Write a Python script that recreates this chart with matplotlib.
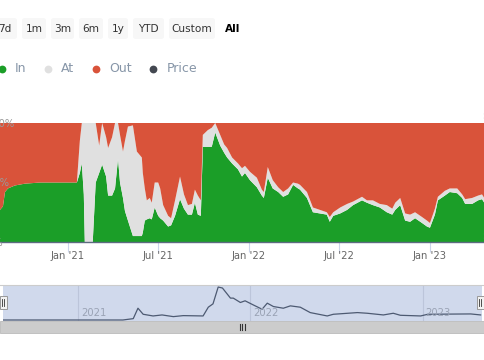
import matplotlib
matplotlib.use("Agg")
import matplotlib.pyplot as plt
import matplotlib.dates as mdates
from matplotlib.patches import FancyBboxPatch, Rectangle
import pandas as pd
import numpy as np

# ---------------- data ----------------
dates = ["2020-08-17", "2020-08-23", "2020-08-27", "2020-09-02", "2020-09-16", "2020-10-06", "2020-11-06",
         "2021-01-19", "2021-01-25", "2021-01-29", "2021-02-02", "2021-02-04", "2021-02-20", "2021-02-26",
         "2021-03-05", "2021-03-11", "2021-03-19", "2021-03-23",
         "2021-03-31", "2021-04-06", "2021-04-12", "2021-04-16", "2021-04-22", "2021-04-26", "2021-05-02",
         "2021-05-12", "2021-05-20", "2021-05-30", "2021-06-01", "2021-06-05", "2021-06-09", "2021-06-15",
         "2021-06-19", "2021-06-25", "2021-07-02", "2021-07-06", "2021-07-12", "2021-07-22", "2021-07-28",
         "2021-08-05", "2021-08-15", "2021-08-23", "2021-08-31", "2021-09-08", "2021-09-14", "2021-09-20",
         "2021-09-26", "2021-09-30", "2021-10-10", "2021-10-18", "2021-10-25",
         "2021-11-04", "2021-11-12", "2021-11-18", "2021-11-28", "2021-12-10", "2021-12-18", "2021-12-24",
         "2022-01-03", "2022-01-17", "2022-01-27", "2022-01-31", "2022-02-08", "2022-02-18", "2022-03-01",
         "2022-03-11", "2022-03-21", "2022-03-31", "2022-04-10", "2022-04-14", "2022-04-28", "2022-05-10",
         "2022-05-24", "2022-06-07", "2022-06-13", "2022-06-20", "2022-07-04", "2022-07-18", "2022-07-30",
         "2022-08-17", "2022-08-27", "2022-09-08", "2022-09-22", "2022-10-06", "2022-10-17", "2022-10-23",
         "2022-11-02", "2022-11-12", "2022-11-22", "2022-12-02", "2022-12-16", "2022-12-26",
         "2023-01-01", "2023-01-11", "2023-01-17", "2023-01-31", "2023-02-10", "2023-02-25", "2023-03-07",
         "2023-03-13", "2023-03-27", "2023-04-08", "2023-04-16", "2023-04-22"]
in_pct = [27, 30, 42, 45, 47.5, 49, 50,
          50, 58, 66, 40, 0, 0, 50,
          58, 65, 55, 39,
          39, 45, 70, 50, 37, 26, 18,
          5, 5, 5, 8, 18, 19, 20,
          19, 29, 22, 20, 18, 13, 14,
          22, 36, 28, 23, 23, 33, 23,
          22, 80, 80, 80, 92,
          81, 75, 71, 66, 61, 55, 58,
          52, 46, 39, 37, 54, 45, 42,
          38, 40, 48, 45, 44, 37, 25,
          24, 23, 17, 22, 24, 27, 31,
          35, 33, 31, 29, 25, 23, 27,
          31, 18, 17, 20, 16, 13,
          12, 23, 35, 39, 42, 41, 37,
          32, 32, 35, 36, 32]
in_at_pct = [27, 30, 42, 45, 47.5, 49, 50,
             50, 85, 100, 100, 100, 100, 100,
             81, 100, 88, 79,
             88, 100, 100, 90, 76, 85, 97,
             98, 76, 71, 58, 45, 35, 37,
             33, 50, 50, 45, 31, 22, 20,
             35, 55, 40, 31, 32, 44, 39,
             35, 90, 94, 96, 100,
             90, 82, 79, 71, 66, 62, 64,
             59, 54, 44, 42, 63, 52, 46,
             42, 45, 50, 49, 48, 42, 29,
             27, 25, 21, 25, 29, 32, 34,
             38, 35, 35, 32, 31, 28, 33,
             37, 24, 23, 25, 21, 18,
             16, 28, 38, 43, 45, 45, 40,
             36, 37, 39, 40, 36]

price_dates = ["2020-07-26", "2021-04-06", "2021-04-28", "2021-05-08", "2021-05-19", "2021-06-09", "2021-06-28",
               "2021-07-22", "2021-08-12", "2021-09-23", "2021-10-04", "2021-10-14", "2021-10-25", "2021-11-03",
               "2021-11-20", "2021-11-26", "2021-12-11", "2021-12-21", "2022-01-07", "2022-01-26", "2022-02-06",
               "2022-02-19", "2022-03-12", "2022-03-27", "2022-04-17", "2022-05-08", "2022-06-13", "2022-06-26",
               "2022-08-16", "2022-09-06", "2022-10-10", "2022-10-31", "2022-11-15", "2022-12-28", "2023-01-12",
               "2023-04-13", "2023-05-04"]
price = [0.00, 0.00, 0.20, 1.75, 0.85, 0.60, 0.75,
         0.50, 0.65, 0.60, 1.90, 2.40, 4.90, 4.75,
         3.25, 3.25, 2.60, 2.85, 2.25, 1.60, 2.50,
         2.00, 1.75, 2.10, 1.90, 1.10, 0.60, 0.85,
         1.10, 1.00, 0.75, 1.00, 0.70, 0.60, 0.85,
         0.90, 0.75]

tick_dates = ["2021-01-01", "2021-07-01", "2022-01-01", "2022-07-01", "2023-01-01"]
tick_labels = ["Jan '21", "Jul '21", "Jan '22", "Jul '22", "Jan '23"]
nav_years = ["2021-01-01", "2022-01-01", "2023-01-01"]
nav_year_labels = ["2021", "2022", "2023"]
buttons = ["7d", "1m", "3m", "6m", "1y", "YTD", "Custom"]
selected_button = "All"
legend_items = ["In", "At", "Out", "Price"]
y_labels = ["100%", "50%", "0%"]
y_label_values = [100, 50, 0]

# ---------------- style ----------------
C_IN = "#1b9e28"
C_AT = "#e0e0e0"
C_OUT = "#d9533a"
C_PRICE = "#434851"
legend_colors = [C_IN, C_AT, C_OUT, C_PRICE]

W, H = 485, 360
fig = plt.figure(figsize=(W / 100, H / 100), dpi=100)
fig.patch.set_facecolor("white")


def fx(px):
    return px / W


def fy(py):
    return 1 - py / H


# ---------------- main chart ----------------
d = pd.to_datetime(dates)
inn = np.array(in_pct, dtype=float)
at = np.array(in_at_pct, dtype=float) - inn
out = 100 - inn - at

ax = fig.add_axes([0, fy(242), 1, (242 - 123) / H])
ax.stackplot(d, inn, at, out, colors=[C_IN, C_AT, C_OUT], linewidth=0)
ax.set_xlim(pd.Timestamp("2020-08-17"), pd.Timestamp("2023-04-22"))
ax.set_ylim(0, 100)
for s in ["top", "left", "right"]:
    ax.spines[s].set_visible(False)
ax.spines["bottom"].set_color("#5d6b80")
ax.spines["bottom"].set_linewidth(1.0)
ax.set_yticks([])
ax.set_xticks(pd.to_datetime(tick_dates))
ax.set_xticklabels(tick_labels, fontsize=7.2, color="#666666")
ax.tick_params(axis="x", length=7.2, width=0.8, color="#ccd6eb", direction="out", pad=-0.8)

for lab, v in zip(y_labels, y_label_values):
    ypx = 242 - v / 100 * 119
    fig.text(fx(-13), fy(ypx + 1), lab, fontsize=7.2, color="#9a9a9a", ha="left", va="center")
fig.text(fx(482), fy(116), "$5", fontsize=7.2, color="#9a9a9a", ha="left", va="center")
fig.text(fx(482), fy(235), "$0", fontsize=7.2, color="#9a9a9a", ha="left", va="center")

# ---------------- buttons ----------------
btn_boxes = [(-7, 17), (22, 46), (51, 74), (79, 103), (108, 128), (133, 164), (169, 215)]
for lab, (x0, x1) in zip(buttons, btn_boxes):
    p = FancyBboxPatch((fx(x0), fy(39)), fx(x1 - x0), (39 - 18) / H,
                       boxstyle="round,pad=0,rounding_size=0.006",
                       transform=fig.transFigure, facecolor="#f7f7f7", edgecolor="none")
    fig.patches.append(p)
    fig.text(fx((x0 + x1) / 2), fy(29), lab, fontsize=7.6, color="#333333",
             ha="center", va="center")
fig.text(fx(232.5), fy(29), selected_button, fontsize=7.6, color="#000000",
         ha="center", va="center", fontweight="bold")

# ---------------- legend ----------------
dot_x = [2, 48, 96, 153]
text_x = [15, 61, 109, 167]
for lab, c, dx, tx in zip(legend_items, legend_colors, dot_x, text_x):
    fig.add_artist(plt.Line2D([fx(dx)], [fy(69)], transform=fig.transFigure, marker="o",
                              markersize=5.6, markerfacecolor=c, markeredgecolor="none",
                              linestyle="none"))
    fig.text(fx(tx), fy(68.5), lab, fontsize=9, color="#8796a8", ha="left", va="center")

# ---------------- navigator ----------------
nav = fig.add_axes([fx(3), fy(321), fx(479), 36 / H])
nav.set_facecolor("#d0d9ec")
pdts = pd.to_datetime(price_dates)
nav.plot(pdts, price, color="#4d5a72", linewidth=0.9)
nav.set_xlim(pd.Timestamp("2020-07-26"), pd.Timestamp("2023-05-07"))
nav.set_ylim(-0.15, 5.2)
nav.set_yticks([])
nav.set_xticks(pd.to_datetime(nav_years))
nav.tick_params(axis="x", length=0, labelbottom=False)
nav.grid(axis="x", color="#bcc5da", linewidth=0.8)
for s in nav.spines.values():
    s.set_visible(False)
for yd, yl in zip(pd.to_datetime(nav_years), nav_year_labels):
    nav.annotate(yl, (mdates.date2num(yd), 0.22), xycoords=nav.get_xaxis_transform(),
                 xytext=(2.2, 0), textcoords="offset points", fontsize=7.2, color="#9aa3b5",
                 ha="left", va="center")
fig.add_artist(plt.Line2D([0, 1], [fy(285), fy(285)], transform=fig.transFigure,
                          color="#cccccc", linewidth=0.8))

# handles
for hx in [0, 477]:
    fig.patches.append(Rectangle((fx(hx), fy(309)), fx(7), 13 / H, transform=fig.transFigure,
                                 facecolor="#f2f2f2", edgecolor="#999999", linewidth=0.7))
    for lx in [hx + 2.5, hx + 4.5]:
        fig.add_artist(plt.Line2D([fx(lx), fx(lx)], [fy(306), fy(299)], transform=fig.transFigure,
                                  color="#333333", linewidth=0.6))

# scrollbar
fig.patches.append(Rectangle((0, fy(333)), 1, 12 / H, transform=fig.transFigure,
                             facecolor="#cccccc", edgecolor="#bbbbbb", linewidth=0.6))
for gx in [240, 242.5, 245]:
    fig.add_artist(plt.Line2D([fx(gx), fx(gx)], [fy(330), fy(324)], transform=fig.transFigure,
                              color="#333333", linewidth=0.8))

fig.savefig("out.png", dpi=100)
